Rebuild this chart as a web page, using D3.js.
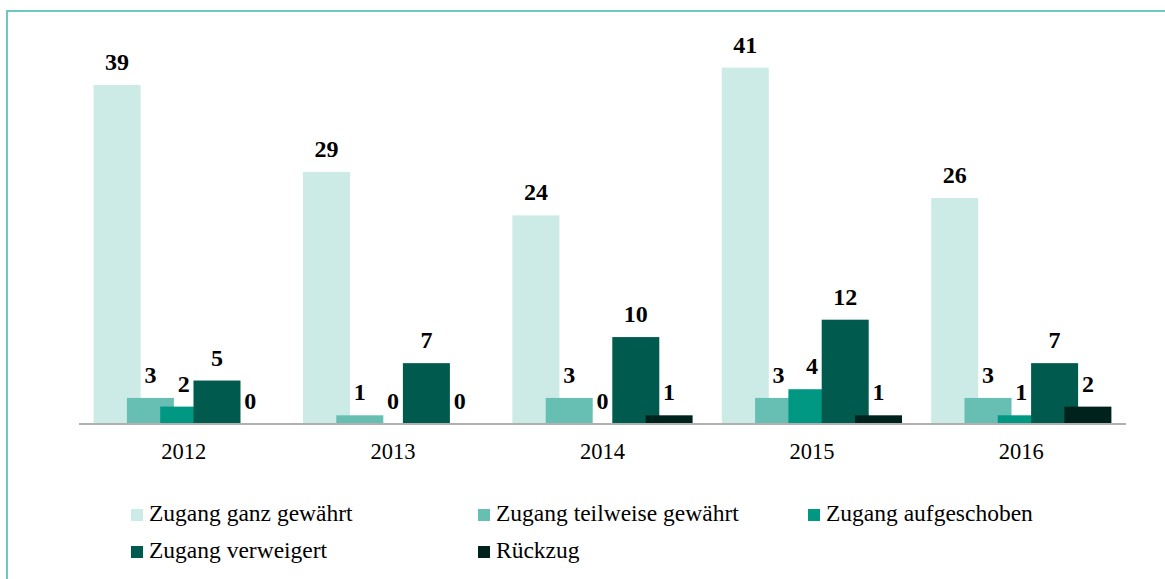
<!DOCTYPE html>
<html lang="de">
<head>
  <meta charset="UTF-8">
  <title>Zugang</title>
  <style>
    body { margin: 0; background: #fff; }
  </style>
</head>
<body>
  <svg width="1165" height="579"></svg>
  <script src="https://cdn.jsdelivr.net/npm/d3@7/dist/d3.min.js"></script>
  <script>
    // data
    var years = ["2012", "2013", "2014", "2015", "2016"]
    var seriesNames = ["Zugang ganz gewährt", "Zugang teilweise gewährt", "Zugang aufgeschoben", "Zugang verweigert", "Rückzug"]
    var ganz = [39, 29, 24, 41, 26]
    var teilweise = [3, 1, 3, 3, 3]
    var aufgeschoben = [2, 0, 0, 4, 1]
    var verweigert = [5, 7, 10, 12, 7]
    var rueckzug = [0, 0, 1, 1, 2]
    var colors = ["#cdebe6", "#66bfb2", "#009882", "#005a4e", "#00221d"]

    var allValues = [ganz, teilweise, aufgeschoben, verweigert, rueckzug]
    var serif = "Liberation Serif"

    var svg = d3.select("svg")
    var width = +svg.attr("width")
    var height = +svg.attr("height")

    // rahmen
    svg.append("path")
      .attr("d", "M7," + height + "V11H" + width)
      .attr("fill", "none")
      .attr("stroke", "#6ec8bd")
      .attr("stroke-width", 2)

    var baseY = 424
    var x0 = d3.scaleBand().domain(years).range([79, 1126])
    var step = 33.3
    var barW = 47
    var x1 = d3.scaleBand().domain(seriesNames)
      .range([0, step * seriesNames.length])
      .paddingInner(0).paddingOuter(0)
    var groupW = step * (seriesNames.length - 1) + barW
    var offset = (x0.bandwidth() - groupW) / 2

    var y = d3.scaleLinear().domain([0, 39]).range([baseY, 85])

    var data = []
    years.forEach(function (yr, i) {
      seriesNames.forEach(function (s, j) {
        data.push({ year: yr, series: s, value: allValues[j][i], idx: j })
      })
    })

    var g = svg.append("g")
    g.selectAll("rect")
      .data(data)
      .enter()
      .append("rect")
      .attr("x", function (d) { return x0(d.year) + offset + x1(d.series) })
      .attr("y", function (d) { return y(d.value) })
      .attr("width", barW)
      .attr("height", function (d) { return baseY - y(d.value) })
      .attr("fill", function (d) { return colors[d.idx] })

    g.selectAll(".val")
      .data(data)
      .enter()
      .append("text")
      .attr("class", "val")
      .attr("x", function (d) { return x0(d.year) + offset + x1(d.series) + barW / 2 })
      .attr("y", function (d) { return y(d.value) - 15 })
      .attr("text-anchor", "middle")
      .attr("font-family", serif)
      .attr("font-size", 24)
      .attr("font-weight", "bold")
      .attr("fill", "#000")
      .text(function (d) { return d.value })

    // x achse
    var axis = svg.append("g")
      .attr("transform", "translate(0," + baseY + ")")
      .call(d3.axisBottom(x0).tickSize(0).tickPadding(0))
    axis.select(".domain").attr("stroke", "#b0b0b0").attr("stroke-width", 2)
      .attr("d", "M79,0H1126")
    axis.selectAll("text")
      .attr("dy", null)
      .attr("y", 35)
      .attr("font-size", 22.5)
      .attr("font-family", serif)
      .attr("fill", "#000")

    // legende
    var legendPos = [[131, 521], [478, 521], [808, 521], [131, 558], [478, 558]]
    var lg = svg.append("g").selectAll("g")
      .data(seriesNames)
      .enter()
      .append("g")
      .attr("transform", function (d, i) { return "translate(" + legendPos[i][0] + "," + legendPos[i][1] + ")" })
    lg.append("rect")
      .attr("x", 0).attr("y", -12)
      .attr("width", 12).attr("height", 12)
      .attr("fill", function (d, i) { return colors[i] })
    lg.append("text")
      .attr("x", 18).attr("y", 0)
      .attr("font-family", serif)
      .attr("font-size", 23.5)
      .attr("fill", "#000")
      .text(function (d) { return d })
  </script>
</body>
</html>
